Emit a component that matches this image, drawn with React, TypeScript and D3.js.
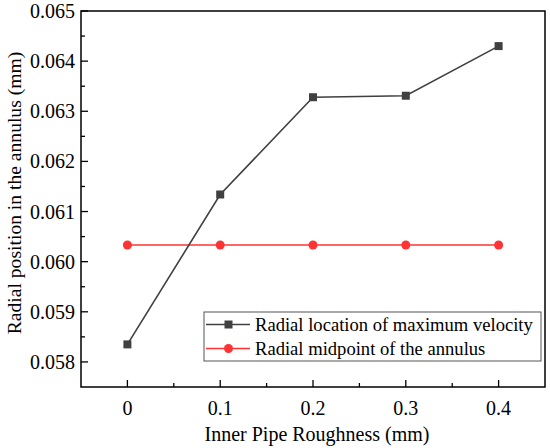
import React from "react";
import * as d3 from "d3";

const roughness = [0, 0.1, 0.2, 0.3, 0.4];
const maxVelocityLocation = [0.05835, 0.06134, 0.06328, 0.06331, 0.0643];
const annulusMidpoint = [0.060333, 0.060333, 0.060333, 0.060333, 0.060333];
const xTicks = [0, 0.1, 0.2, 0.3, 0.4];
const yTicks = [0.058, 0.059, 0.06, 0.061, 0.062, 0.063, 0.064, 0.065];
const seriesNames = ["Radial location of maximum velocity", "Radial midpoint of the annulus"];

const W = 550, H = 448;
const M = { left: 81, top: 11, right: 545, bottom: 387 };
const FONT = `"Liberation Serif", monospace`;

export default function App() {
  const x = d3.scaleLinear().domain([-0.05, 0.45]).range([M.left, M.right]);
  const y = d3.scaleLinear().domain([0.0575, 0.065]).range([M.bottom, M.top]);
  const line = d3.line<number>().x((_, i) => x(roughness[i])).y((d) => y(d));
  const xMinor = d3.range(-0.05, 0.451, 0.05).filter((v) => !xTicks.some((t) => Math.abs(t - v) < 1e-6) && v > -0.049 && v < 0.449);
  const yMinor = d3.range(0.0575, 0.0651, 0.0005).filter((v) => !yTicks.some((t) => Math.abs(t - v) < 1e-7) && v > 0.0575 + 1e-7 && v < 0.065 - 1e-7);
  const black = "#404040";
  const red = "#ff3333";
  const lg = { x0: 204, y0: 312, x1: 541, y1: 361 };
  return (
    <div style={{ position: "absolute", left: 0, top: 0, width: W, height: H, background: "#fff", fontFamily: FONT }}>
      <svg width={W} height={H} fontFamily={FONT}>
        {xMinor.map((v, i) => (
          <line key={"xm" + i} x1={x(v)} x2={x(v)} y1={M.bottom} y2={M.bottom - 4} stroke="#000" strokeWidth={1.3} />
        ))}
        {xTicks.map((v, i) => (
          <g key={"xt" + i}>
            <line x1={x(v)} x2={x(v)} y1={M.bottom} y2={M.bottom - 7} stroke="#000" strokeWidth={1.3} />
            <text x={x(v)} y={415} textAnchor="middle" fontSize={20} style={{ fontFamily: FONT }}>{String(v)}</text>
          </g>
        ))}
        {yMinor.map((v, i) => (
          <line key={"ym" + i} x1={M.left} x2={M.left + 4} y1={y(v)} y2={y(v)} stroke="#000" strokeWidth={1.3} />
        ))}
        {yTicks.map((v, i) => (
          <g key={"yt" + i}>
            <line x1={M.left} x2={M.left + 7} y1={y(v)} y2={y(v)} stroke="#000" strokeWidth={1.3} />
            <text x={75} y={y(v) + 7} textAnchor="end" fontSize={20} style={{ fontFamily: FONT }}>{v.toFixed(3)}</text>
          </g>
        ))}
        <rect x={M.left} y={M.top} width={M.right - M.left} height={M.bottom - M.top} fill="none" stroke="#000" strokeWidth={1.5} />
        <path d={line(annulusMidpoint) || ""} fill="none" stroke={red} strokeWidth={1.6} />
        {annulusMidpoint.map((v, i) => (
          <circle key={"r" + i} cx={x(roughness[i])} cy={y(v)} r={4.5} fill={red} />
        ))}
        <path d={line(maxVelocityLocation) || ""} fill="none" stroke={black} strokeWidth={1.6} />
        {maxVelocityLocation.map((v, i) => (
          <rect key={"b" + i} x={x(roughness[i]) - 4} y={y(v) - 4} width={8} height={8} fill={black} />
        ))}
        <rect x={lg.x0} y={lg.y0} width={lg.x1 - lg.x0} height={lg.y1 - lg.y0} fill="#fff" stroke="#555" strokeWidth={1} />
        <line x1={206} x2={250} y1={324.5} y2={324.5} stroke={black} strokeWidth={1.6} />
        <rect x={224.5} y={320.5} width={8} height={8} fill={black} />
        <text x={255} y={331} fontSize={18.6} style={{ fontFamily: FONT }}>{seriesNames[0]}</text>
        <line x1={206} x2={250} y1={348.5} y2={348.5} stroke={red} strokeWidth={1.6} />
        <circle cx={228.5} cy={348.5} r={4.5} fill={red} />
        <text x={255} y={355} fontSize={18.6} style={{ fontFamily: FONT }}>{seriesNames[1]}</text>
        <text x={(M.left + M.right) / 2 + 4} y={441} textAnchor="middle" fontSize={20} style={{ fontFamily: FONT }}>Inner Pipe Roughness (mm)</text>
        <text transform={`translate(21, ${(M.top + M.bottom) / 2 - 6}) rotate(-90)`} textAnchor="middle" fontSize={19.6} style={{ fontFamily: FONT }}>Radial position in the annulus (mm)</text>
      </svg>
    </div>
  );
}
